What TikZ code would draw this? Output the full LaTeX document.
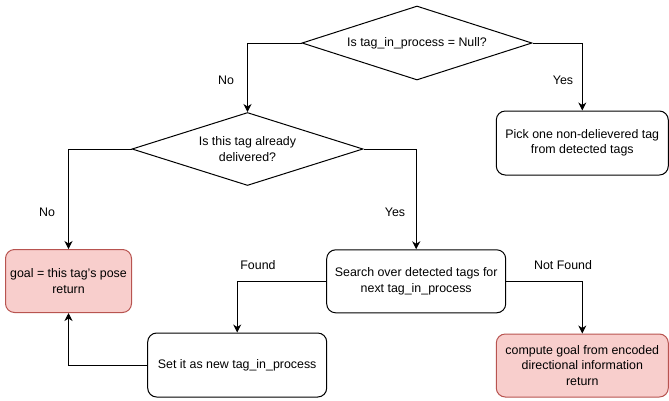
\documentclass[tikz,border=0pt]{standalone}
\usepackage{fontspec}
\setmainfont{Liberation Sans}
\usetikzlibrary{shapes.geometric,arrows.meta}
\definecolor{redfill}{HTML}{F8CECC}
\definecolor{redline}{HTML}{B85450}
\begin{document}
\begin{tikzpicture}[x=1pt,y=1pt,
  font=\fontsize{12.4}{15.5}\selectfont,
  dia/.style={draw=black,line width=1pt,diamond,inner sep=0pt,minimum width=#1,minimum height=74pt},
  box/.style={draw=black,line width=1pt,rounded corners=9pt,inner sep=0pt,align=center},
  redbox/.style={box,draw=redline,fill=redfill},
  arr/.style={line width=1pt,-{Stealth[length=8pt,width=8pt,inset=2.5pt]}},
  lbl/.style={inner sep=0pt}
]
\useasboundingbox (0,0) rectangle (669,-400);
\node[dia=230pt] (d1) at (417,-43) {};
\node[align=center] (d1t) at (d1) {Is tag\_in\_process = Null?};
\node[dia=231pt,minimum height=73pt] (d2) at (247.5,-149) {};
\node[align=center] (d2t) at (d2) {Is this tag already\\delivered?};
\node[box,minimum width=172pt,minimum height=64pt] (pick) at (582.3,-143) {Pick one non-delievered tag\\from detected tags};
\node[redbox,minimum width=126pt,minimum height=63pt] (goal) at (68.5,-281) {goal = this tag's pose\\return};
\node[box,minimum width=179pt,minimum height=63pt] (search) at (416.2,-281.3) {Search over detected tags for\\next tag\_in\_process};
\node[box,minimum width=179pt,minimum height=64pt] (set) at (237.2,-365) {Set it as new tag\_in\_process};
\node[redbox,minimum width=172pt,minimum height=63pt] (compute) at (582.3,-365.5) {compute goal from encoded\\directional information\\return};
\draw[arr] (d1.west) -| (d2.north);
\draw[arr] (d1.east) -| (pick.north);
\draw[arr] (d2.west) -| (goal.north);
\draw[arr] (d2.east) -| (search.north);
\draw[arr] (search.west) -| (set.north);
\draw[arr] (search.east) -| (compute.north);
\draw[arr] (set.west) -| (goal.south);
\node[lbl] (l1) at (226,-80) {No};
\node[lbl] (l2) at (563,-80) {Yes};
\node[lbl] (l3) at (47,-212) {No};
\node[lbl] (l4) at (395,-212) {Yes};
\node[lbl] (l5) at (258,-265) {Found};
\node[lbl] (l6) at (563,-265) {Not Found};
\end{tikzpicture}
\end{document}
